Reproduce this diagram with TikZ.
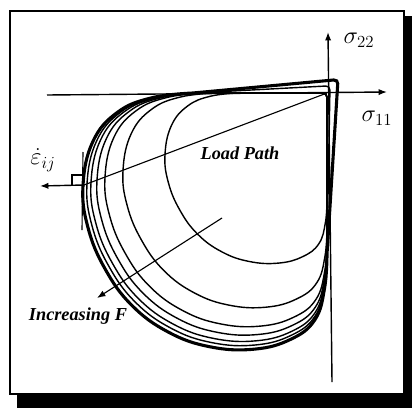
\documentclass[tikz,border=0pt]{standalone}
\usepackage{fontspec}
\setmainfont{Liberation Serif}
\usetikzlibrary{arrows.meta}

\tikzset{
  axe/.style={line width=1pt, -{Latex[length=6pt,width=4.5pt]}},
  surf/.style={line width=1pt},
  petit/.style={font=\fontsize{13}{15}\selectfont\bfseries\itshape, inner sep=0pt},
  grand/.style={font=\fontsize{18}{22}\selectfont, inner sep=0pt},
}

\begin{document}
\begin{tikzpicture}[x=0.025cm, y=-0.025cm]
\useasboundingbox (0,0) rectangle (412,408);
% cadre avec ombre
\fill (17,16) rectangle (412,408);
\draw[line width=1.6pt, fill=white] (10,11) rectangle (404,394);

\coordinate (O) at (327,93);
\coordinate (P) at (84,185);

% surfaces de charge emboitees
\foreach \s/\cu/\cv/\lw in {162/0/0/1pt, 204/0/0/1pt, 222/0/0/1pt, 230/0/0/1pt,
                            236/0/0/1pt, 240/-0.0125/-0.03/1pt, 244/-0.045/-0.055/2.2pt} {
  \begin{scope}[shift={(O)}, xscale=-\s, yscale=\s]
    \draw[line width=\lw] (0,0.66) [rounded corners=3pt] -- (\cu,\cv) [sharp corners] -- (0.55,0)
      -- plot[smooth, tension=0.7] coordinates
      {(0.55,0) (0.72,0.02) (0.86,0.08) (0.96,0.2) (1.0,0.38) (0.98,0.55) (0.91,0.72)
       (0.8,0.87) (0.65,0.98) (0.48,1.04) (0.3,1.05) (0.15,1.01) (0.05,0.93) (0.01,0.8) (0,0.66)}
      -- cycle;
  \end{scope}
}

% axes
\coordinate (Xa) at (47,95);
\coordinate (Xb) at (387,92);
\coordinate (Ya) at (332,382);
\coordinate (Yb) at (328,32);
\draw[axe] (Xa) -- (Xb);
\draw[axe] (Ya) -- (Yb);
\node[grand] (s22) at (359,40) {$\sigma_{22}$};
\node[grand] (s11) at (377,118) {$\sigma_{11}$};

% chemin de chargement et normale
\coordinate (N) at (40,186);
\coordinate (T1) at (83,152);
\coordinate (T2) at (82,230);
\draw[line width=0.8pt] (P) -- (O);
\draw[line width=1pt, -{Latex[length=6pt,width=4.5pt]}] (P) -- (N);
\draw[line width=0.8pt] (T1) -- (T2);
\draw[line width=0.8pt] (P) ++(-12,0) -- ++(0,-10) -- ++(12,0);
\node[grand] (eps) at (43,160) {$\dot{\varepsilon}_{ij}$};
\node[petit] (lp) at (240,153) {Load Path};

% F croissant
\coordinate (F1) at (222,218);
\coordinate (F2) at (97,298);
\draw[line width=0.8pt, -{Latex[length=6pt,width=4.5pt]}] (F1) -- (F2);
\node[petit] (inc) at (78,316) {Increasing F};
\end{tikzpicture}
\end{document}
